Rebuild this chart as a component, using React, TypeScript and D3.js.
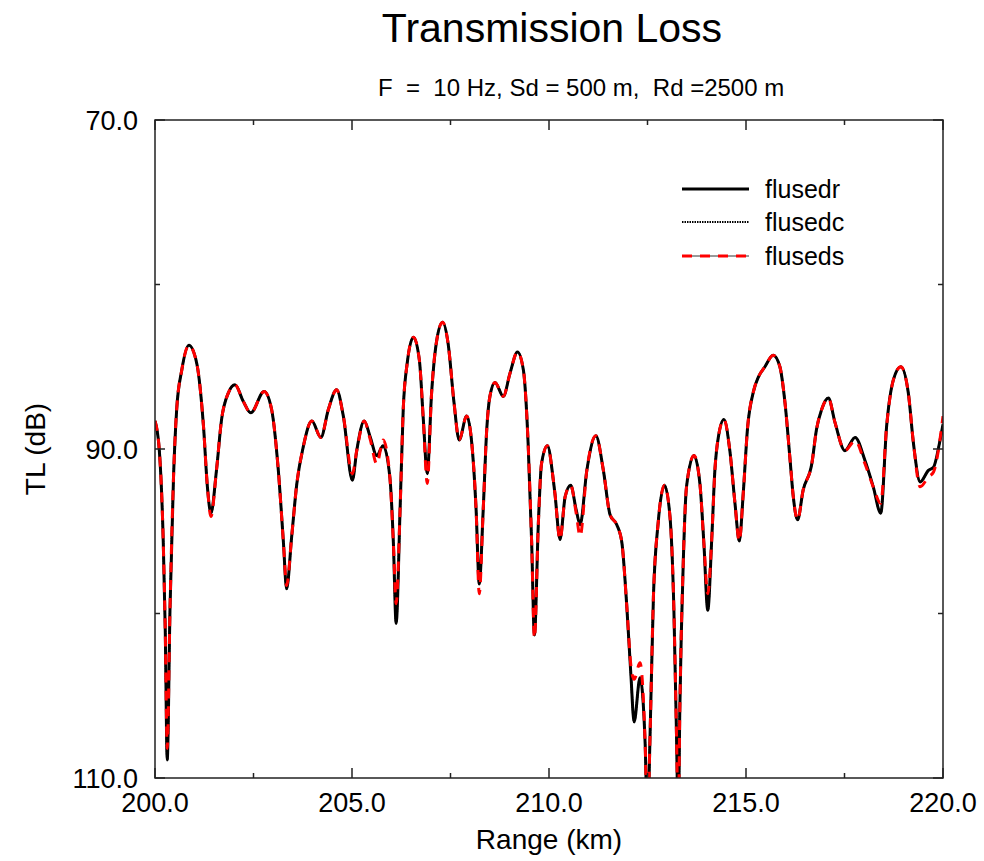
import React from "react";
import * as d3 from "d3";

const rangeKm = [
  200.0, 200.11, 200.21, 200.26, 200.31, 200.38, 200.47, 200.55, 200.68, 200.86,
  201.06, 201.23, 201.33, 201.42, 201.56, 201.69, 201.86, 202.03, 202.24, 202.43,
  202.77, 202.96, 203.13, 203.26, 203.34, 203.47, 203.6, 203.76, 203.98, 204.21,
  204.4, 204.61, 204.78, 205.01, 205.12, 205.31, 205.46, 205.63, 205.79, 205.96,
  206.05, 206.12, 206.22, 206.3, 206.4, 206.56, 206.71, 206.81, 206.91, 207.02,
  207.15, 207.3, 207.44, 207.59, 207.72, 207.91, 208.04, 208.15, 208.23, 208.33,
  208.42, 208.5, 208.63, 208.84, 209.01, 209.2, 209.35, 209.47, 209.56, 209.63,
  209.73, 209.81, 209.96, 210.11, 210.15, 210.28, 210.41, 210.55, 210.69, 210.79,
  210.96, 211.19, 211.38, 211.55, 211.72, 211.85, 211.97, 212.08, 212.16, 212.31,
  212.44, 212.5, 212.56, 212.65, 212.77, 212.93, 213.07, 213.17, 213.24, 213.28,
  213.32, 213.41, 213.49, 213.68, 213.83, 213.93, 214.03, 214.13, 214.21, 214.3,
  214.44, 214.59, 214.72, 214.83, 214.93, 215.04, 215.19, 215.32, 215.48, 215.69,
  215.86, 215.99, 216.12, 216.2, 216.31, 216.45, 216.67, 216.79, 216.92, 217.09,
  217.26, 217.51, 217.77, 218.02, 218.23, 218.42, 218.57, 218.74, 218.93, 219.12,
  219.25, 219.42, 219.63, 219.76, 219.91, 220.0,
];

const flusedr = [
  88.3, 90.1, 95.7, 101.0, 108.9, 99.8, 91.7, 87.6, 85.2, 83.7,
  84.8, 88.6, 92.3, 93.9, 91.3, 88.2, 86.6, 86.1, 87.1, 87.8,
  86.5, 87.6, 91.3, 95.7, 98.5, 95.3, 92.1, 89.9, 88.3, 89.3,
  87.6, 86.4, 88.0, 91.9, 90.1, 88.3, 89.25, 90.4, 89.8, 91.7,
  95.7, 100.6, 93.7, 87.6, 84.8, 83.2, 84.6, 88.2, 91.5, 86.6,
  83.4, 82.3, 83.6, 87.2, 89.45, 88.0, 89.65, 93.7, 98.2, 93.7,
  88.8, 86.8, 85.95, 86.8, 85.4, 84.1, 85.2, 89.65, 95.7, 101.3,
  94.5, 90.9, 89.8, 91.9, 92.7, 95.5, 92.9, 92.2, 93.7, 94.6,
  91.3, 89.2, 91.3, 94.0, 94.6, 95.7, 99.4, 103.8, 106.6, 103.9,
  107.9, 113.0, 107.9, 99.0, 94.5, 92.2, 94.1, 99.8, 107.9, 113.0,
  105.9, 96.7, 92.3, 90.4, 92.1, 95.7, 99.8, 95.5, 91.3, 89.25,
  88.2, 90.1, 93.3, 95.6, 92.7, 88.7, 86.5, 85.6, 85.0, 84.3,
  85.0, 87.2, 90.7, 92.9, 94.3, 92.5, 90.9, 88.8, 87.6, 86.9,
  88.4, 90.1, 89.3, 90.7, 92.3, 93.9, 88.6, 85.8, 85.0, 86.6,
  89.65, 92.0, 91.3, 91.1, 89.65, 88.5,
];

const flusedc = [
  88.3, 90.1, 95.7, 101.0, 108.9, 99.8, 91.7, 87.6, 85.2, 83.7,
  84.8, 88.6, 92.3, 93.9, 91.3, 88.2, 86.6, 86.1, 87.1, 87.8,
  86.5, 87.6, 91.3, 95.7, 98.5, 95.3, 92.1, 89.9, 88.3, 89.3,
  87.6, 86.4, 88.0, 91.9, 90.1, 88.3, 89.25, 90.4, 89.8, 91.7,
  95.7, 100.6, 93.7, 87.6, 84.8, 83.2, 84.6, 88.2, 91.5, 86.6,
  83.4, 82.3, 83.6, 87.2, 89.45, 88.0, 89.65, 93.7, 98.2, 93.7,
  88.8, 86.8, 85.95, 86.8, 85.4, 84.1, 85.2, 89.65, 95.7, 101.3,
  94.5, 90.9, 89.8, 91.9, 92.7, 95.5, 92.9, 92.2, 93.7, 94.6,
  91.3, 89.2, 91.3, 94.0, 94.6, 95.7, 99.4, 103.8, 106.6, 103.9,
  107.9, 113.0, 107.9, 99.0, 94.5, 92.2, 94.1, 99.8, 107.9, 113.0,
  105.9, 96.7, 92.3, 90.4, 92.1, 95.7, 99.8, 95.5, 91.3, 89.25,
  88.2, 90.1, 93.3, 95.6, 92.7, 88.7, 86.5, 85.6, 85.0, 84.3,
  85.0, 87.2, 90.7, 92.9, 94.3, 92.5, 90.9, 88.8, 87.6, 86.9,
  88.4, 90.1, 89.3, 90.7, 92.3, 93.9, 88.6, 85.8, 85.0, 86.6,
  89.65, 92.0, 91.3, 91.1, 89.65, 88.5,
];

const fluseds = [
  88.3, 90.1, 95.7, 101.0, 108.2, 99.8, 91.7, 87.6, 85.2, 83.7,
  84.8, 88.6, 92.3, 94.1, 91.3, 88.2, 86.6, 86.1, 87.1, 87.8,
  86.5, 87.6, 91.3, 95.7, 98.3, 95.3, 92.1, 89.9, 88.3, 89.3,
  87.6, 86.4, 88.0, 91.5, 90.1, 88.3, 89.4, 90.9, 89.45, 91.7,
  95.7, 99.4, 93.7, 87.6, 84.8, 83.2, 84.6, 88.2, 92.1, 86.6,
  83.4, 82.3, 83.6, 87.2, 89.45, 88.0, 89.65, 93.7, 98.8, 93.7,
  88.8, 86.8, 85.95, 86.8, 85.4, 84.1, 85.2, 89.65, 95.7, 101.5,
  94.5, 90.9, 89.8, 91.9, 92.7, 95.5, 92.9, 92.2, 93.9, 95.3,
  91.3, 89.2, 91.3, 94.0, 94.6, 95.7, 99.4, 103.2, 104.0, 103.0,
  107.9, 113.0, 107.9, 99.0, 94.5, 92.2, 94.1, 99.8, 107.9, 113.0,
  105.9, 96.7, 92.3, 90.4, 92.1, 95.7, 98.8, 95.5, 91.3, 89.25,
  88.2, 90.1, 93.3, 95.6, 92.7, 88.7, 86.5, 85.6, 85.0, 84.3,
  85.0, 87.2, 90.7, 92.9, 94.3, 92.5, 90.9, 88.8, 87.6, 86.9,
  88.4, 90.1, 89.5, 90.9, 92.3, 93.3, 88.6, 85.8, 85.0, 86.6,
  89.65, 92.3, 91.7, 91.4, 89.65, 88.0,
];

const xTicks = [200, 202.5, 205, 207.5, 210, 212.5, 215, 217.5, 220];
const xLabels = [200, 205, 210, 215, 220];
const yTicks = [70, 80, 90, 100, 110];
const yLabels = [70, 90, 110];
const seriesNames = ["flusedr", "flusedc", "fluseds"];

const W = 984;
const H = 861;
const left = 155;
const right = 943;
const top = 120;
const bottom = 778;
const FONT = "'Liberation Sans', Arial, Helvetica, sans-serif";

export default function App() {
  const x = d3.scaleLinear().domain([200, 220]).range([left, right]);
  const y = d3.scaleLinear().domain([70, 110]).range([top, bottom]);

  const mk = (vals: number[]) =>
    d3
      .line<number>()
      .x((_, i) => x(rangeKm[i]))
      .y((v) => y(v))
      .curve(d3.curveMonotoneX)(vals) || "";

  const pathR = mk(flusedr);
  const pathC = mk(flusedc);
  const pathS = mk(fluseds);

  const legendX1 = 682;
  const legendX2 = 749;
  const legendY = [189, 222, 256];

  return (
    <svg
      width={W}
      height={H}
      style={{ position: "absolute", left: 0, top: 0, background: "#fff" }}
      fontFamily={FONT}
    >
      <rect x={0} y={0} width={W} height={H} fill="#fff" />
      <defs>
        <clipPath id="plotclip">
          <rect x={left} y={top} width={right - left} height={bottom - top} />
        </clipPath>
      </defs>

      {/* Title */}
      <text x={552} y={42} fontSize={41} textAnchor="middle" fill="#000">
        Transmission Loss
      </text>
      <text x={378} y={96} fontSize={24} fill="#000" style={{ whiteSpace: "pre" }}>
        {"F  =  10 Hz, Sd = 500 m,  Rd =2500 m"}
      </text>

      {/* Curves */}
      <g clipPath="url(#plotclip)" fill="none">
        <path d={pathR} stroke="#000" strokeWidth={3} strokeLinejoin="round" />
        <path d={pathC} stroke="#000" strokeWidth={2} strokeDasharray="1.5,1" />
        <path d={pathS} stroke="#ff0000" strokeWidth={3} strokeDasharray="10,8" />
      </g>

      {/* Frame */}
      <rect
        x={left}
        y={top}
        width={right - left}
        height={bottom - top}
        fill="none"
        stroke="#222"
        strokeWidth={1.5}
      />

      {/* X ticks */}
      {xTicks.map((t) => {
        const len = xLabels.includes(t) ? 10 : 5;
        return (
          <g key={"xt" + t} stroke="#222" strokeWidth={1.5}>
            <line x1={x(t)} x2={x(t)} y1={bottom} y2={bottom - len} />
            <line x1={x(t)} x2={x(t)} y1={top} y2={top + len} />
          </g>
        );
      })}
      {xLabels.map((t) => (
        <text key={"xl" + t} x={x(t)} y={812} fontSize={27} textAnchor="middle" fill="#000">
          {t.toFixed(1)}
        </text>
      ))}

      {/* Y ticks */}
      {yTicks.map((t) => {
        const len = yLabels.includes(t) ? 10 : 5;
        return (
          <g key={"yt" + t} stroke="#222" strokeWidth={1.5}>
            <line x1={left} x2={left + len} y1={y(t)} y2={y(t)} />
            <line x1={right} x2={right - len} y1={y(t)} y2={y(t)} />
          </g>
        );
      })}
      {yLabels.map((t) => (
        <text key={"yl" + t} x={138} y={y(t) + 10} fontSize={27} textAnchor="end" fill="#000">
          {t.toFixed(1)}
        </text>
      ))}

      {/* Axis labels */}
      <text x={549} y={849} fontSize={28} textAnchor="middle" fill="#000">
        Range (km)
      </text>
      <text
        transform={`translate(45, ${(top + bottom) / 2}) rotate(-90)`}
        fontSize={28}
        textAnchor="middle"
        fill="#000"
      >
        TL (dB)
      </text>

      {/* Legend */}
      <g fill="none">
        <line x1={legendX1} x2={legendX2} y1={legendY[0]} y2={legendY[0]} stroke="#000" strokeWidth={3} />
        <line x1={legendX1} x2={legendX2} y1={legendY[1]} y2={legendY[1]} stroke="#000" strokeWidth={2} strokeDasharray="1.5,1" />
        <line x1={legendX1} x2={legendX2} y1={legendY[2]} y2={legendY[2]} stroke="#333" strokeWidth={1} />
        <line x1={legendX1} x2={legendX2} y1={legendY[2]} y2={legendY[2]} stroke="#ff0000" strokeWidth={3} strokeDasharray="10,8" />
      </g>
      {seriesNames.map((n, i) => (
        <text key={n} x={765} y={legendY[i] + 9} fontSize={25} fill="#000">
          {n}
        </text>
      ))}
    </svg>
  );
}
